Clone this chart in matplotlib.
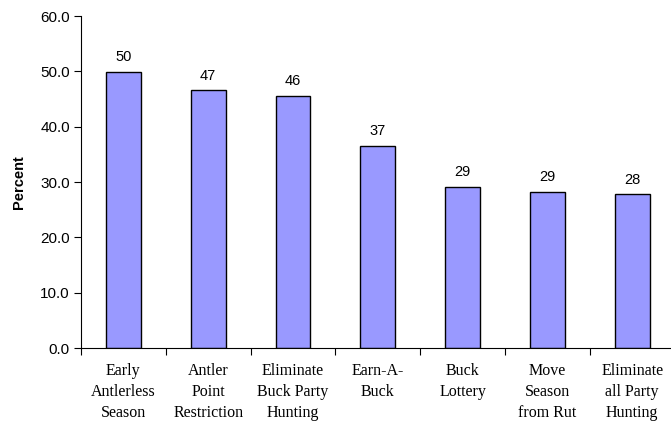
import numpy as np
import matplotlib.pyplot as plt
from matplotlib.ticker import FixedLocator

categories = ["Early\nAntlerless\nSeason", "Antler\nPoint\nRestriction",
              "Eliminate\nBuck Party\nHunting", "Earn-A-\nBuck", "Buck\nLottery",
              "Move\nSeason\nfrom Rut", "Eliminate\nall Party\nHunting"]
values = [49.9, 46.6, 45.6, 36.6, 29.1, 28.3, 27.8]
value_labels = ["50", "47", "46", "37", "29", "29", "28"]
yticks = [0, 10, 20, 30, 40, 50, 60]

fig = plt.figure(figsize=(6.71, 4.24), dpi=100)
ax = fig.add_axes([0.1207, 0.179, 0.8846, 0.783])

x = np.arange(len(categories))
ax.bar(x, values, width=0.41, color="#9999FF", edgecolor="black", linewidth=1.0)

for xi, v, lab in zip(x, values, value_labels):
    ax.annotate(lab, (xi, v), xytext=(0, 5.5), textcoords="offset points",
                ha="center", va="bottom", fontsize=10.5, family="Liberation Sans")

ax.set_xlim(-0.5, len(categories) - 0.5)
ax.set_ylim(0, 60)
ax.set_yticks(yticks)
ax.set_yticklabels([f"{t:.1f}" for t in yticks], family="Liberation Sans", fontsize=11)

ax.xaxis.set_major_locator(FixedLocator(x))
ax.set_xticklabels(categories, family="Liberation Serif", fontsize=11.5, linespacing=1.4)
ax.tick_params(axis="x", which="major", length=0, pad=11)
ax.xaxis.set_minor_locator(FixedLocator(np.arange(-0.5, len(categories), 1.0)))
ax.tick_params(axis="x", which="minor", length=5, direction="out", width=0.8)
ax.tick_params(axis="y", length=5, direction="out", width=0.8, pad=3)

ax.set_ylabel("Percent", family="Liberation Sans", fontsize=10.5, fontweight="bold", labelpad=10)

for s in ["top", "right"]:
    ax.spines[s].set_visible(False)
for s in ["left", "bottom"]:
    ax.spines[s].set_linewidth(0.8)

fig.savefig("out.png", dpi=100)
